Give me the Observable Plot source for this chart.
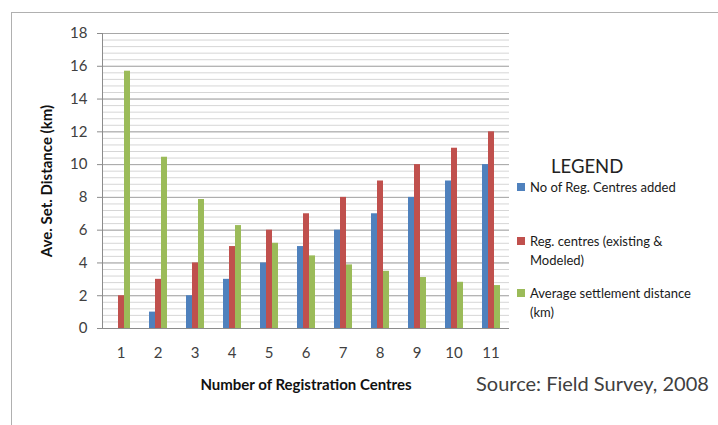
<!DOCTYPE html>
<html>
<head>
<meta charset="utf-8">
<script src="https://cdn.jsdelivr.net/npm/d3@7"></script>
<script src="https://cdn.jsdelivr.net/npm/@observablehq/plot@0.6"></script>
<style>
  html, body { margin: 0; padding: 0; background: #fff; }
  #wrap { position: relative; width: 718px; height: 425px; overflow: hidden; font-family: Lato, "Open Sans", sans-serif; }
  #border { position: absolute; left: 11px; top: 12px; right: -2px; bottom: -2px; border-top: 1.5px solid #b0b0b0; border-left: 1.5px solid #b0b0b0; }
  #chart { position: absolute; left: 0; top: 0; }
  #chart g[aria-label="y-axis label"] text, #chart g[aria-label="fx-axis label"] text { font-weight: bold; font-size: 15px; fill: #111; }
  .legend-title { position: absolute; left: 551px; top: 155px; font-size: 18.5px; color: #222; white-space: nowrap; }
  .item { position: absolute; left: 517px; font-size: 13px; line-height: 19px; color: #1a1a1a; white-space: nowrap; }
  .item .sw { display: inline-block; width: 8px; height: 8px; margin-right: 5px; vertical-align: 1px; }
  .item .l2 { padding-left: 13px; }
  .source { position: absolute; left: 476px; top: 371px; font-size: 20px; color: #404040; white-space: nowrap; }
</style>
</head>
<body>
<div id="wrap">
  <div id="border"></div>
  <div id="chart"></div>
  <div id="legend"></div>
</div>
<script>
const categories = ["1", "2", "3", "4", "5", "6", "7", "8", "9", "10", "11"];
const seriesNames = ["No of Reg. Centres added", "Reg. centres (existing & Modeled)", "Average settlement distance (km)"];
const legendLines = [["No of Reg. Centres added"], ["Reg. centres (existing &", "Modeled)"], ["Average settlement distance", "(km)"]];
const added = [0, 1, 2, 3, 4, 5, 6, 7, 8, 9, 10];
const regCentres = [2, 3, 4, 5, 6, 7, 8, 9, 10, 11, 12];
const avgDistance = [15.7, 10.45, 7.87, 6.28, 5.2, 4.43, 3.88, 3.49, 3.11, 2.82, 2.62];
const colors = ["#4F81BD", "#C0504D", "#9BBB59"];
const yTicks = [0, 2, 4, 6, 8, 10, 12, 14, 16, 18];
const minorTicks = d3.range(0, 45.5, 1).map(i => i * 0.4);
const sourceText = "Source: Field Survey, 2008";

const seriesValues = [added, regCentres, avgDistance];
const table = categories.flatMap((c, i) => seriesNames.map((s, j) => ({cat: c, series: s, value: seriesValues[j][i]})));

const chart = Plot.plot({
  width: 718,
  height: 425,
  marginLeft: 98,
  marginRight: 205,
  marginTop: 33,
  marginBottom: 97,
  style: {fontFamily: "Lato, 'Open Sans', sans-serif", fontSize: "15px", color: "#404040", background: "transparent", overflow: "visible"},
  fx: {domain: categories, padding: 0},
  x: {domain: seriesNames, paddingInner: 0, paddingOuter: 1.4, axis: null},
  y: {domain: [0, 18]},
  color: {domain: seriesNames, range: colors},
  marks: [
    Plot.ruleY(minorTicks, {stroke: "#d6d6d6", strokeWidth: 1}),
    Plot.ruleY(yTicks, {stroke: "#a8a8a8", strokeWidth: 1}),
    Plot.barY(table, {fx: "cat", x: "series", y: "value", fill: "series"}),
    Plot.ruleY([0], {stroke: "#8c8c8c"}),
    Plot.axisY(yTicks, {tickSize: 5, tickPadding: 10, stroke: "#8c8c8c", label: "Ave. Set. Distance (km)", labelAnchor: "center", labelOffset: 61, labelArrow: "none"}),
    Plot.axisFx({anchor: "bottom", tickSize: 0, tickPadding: 19, label: "Number of Registration Centres", labelAnchor: "center", labelOffset: 61, labelArrow: "none"}),
    Plot.frame({anchor: "left", facet: "super", stroke: "#8c8c8c"})
  ]
});
document.getElementById("chart").appendChild(chart);

const legend = document.getElementById("legend");
const title = document.createElement("div");
title.className = "legend-title";
title.textContent = "LEGEND";
legend.appendChild(title);
const tops = [178, 232, 284];
legendLines.forEach((lines, i) => {
  const d = document.createElement("div");
  d.className = "item";
  d.style.top = tops[i] + "px";
  const sw = `<span class="sw" style="background:${colors[i]}"></span>`;
  d.innerHTML = sw + lines[0] + (lines[1] ? `<br><span class="l2">${lines[1]}</span>` : "");
  legend.appendChild(d);
});
const src = document.createElement("div");
src.className = "source";
src.textContent = sourceText;
legend.appendChild(src);
</script>
</body>
</html>
